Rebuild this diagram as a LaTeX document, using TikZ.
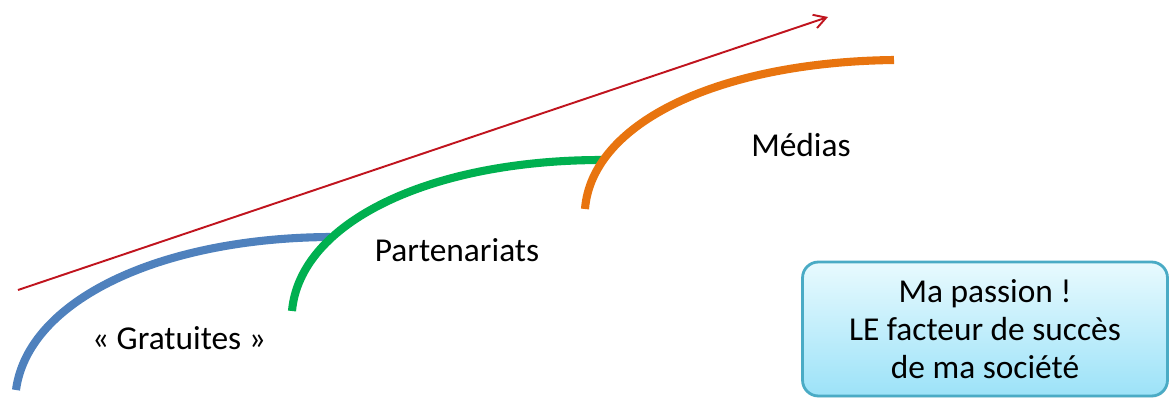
\documentclass[tikz,border=0pt]{standalone}
\usepackage{fontspec}
\setmainfont{Carlito}
\usetikzlibrary{positioning,arrows.meta,shadows}

\definecolor{arcblue}{HTML}{4F81BD}
\definecolor{arcgreen}{HTML}{00B050}
\definecolor{arcorange}{HTML}{E8740F}
\definecolor{trendred}{HTML}{C0141E}
\definecolor{boxedge}{HTML}{4AABC5}
\definecolor{boxtop}{HTML}{E8FAFE}
\definecolor{boxbot}{HTML}{9CE2F8}

\begin{document}
\begin{tikzpicture}[
  x=0.02cm, y=-0.02cm,
  font=\fontsize{19}{21.5}\selectfont,
  stage/.style = {line width=4.6pt},
  trend/.style = {-{Straight Barb[length=2.4mm,width=2.8mm]}, draw=trendred,
                  line width=1.1pt},
  lbl/.style   = {inner sep=1pt},
  note/.style  = {draw=boxedge, line width=1.6pt, rounded corners=9pt,
                  top color=boxtop, bottom color=boxbot, align=center,
                  minimum width=7.3cm, minimum height=2.68cm,
                  drop shadow={shadow xshift=0.5pt, shadow yshift=-0.8pt,
                               opacity=0.25}},
]
\useasboundingbox (0,0) rectangle (1171,399);

%% ---- trend arrow -------------------------------------------------------
\coordinate (trendA) at (18,290);
\coordinate (trendB) at (828,17);
\draw[trend] (trendA) -- (trendB);

%% ---- three growth stages ----------------------------------------------
\coordinate (s1a) at (16,390);  \coordinate (s1b) at (330,237);
\coordinate (s2a) at (292,311); \coordinate (s2b) at (602,160);
\coordinate (s3a) at (585,209); \coordinate (s3b) at (894,60);

\draw[stage, draw=arcblue]   (s1a) .. controls (28,300) and (160,238) .. (s1b);
\draw[stage, draw=arcgreen]  (s2a) .. controls (300,222) and (430,160) .. (s2b);
\draw[stage, draw=arcorange] (s3a) .. controls (592,122) and (720,62) .. (s3b);

%% ---- stage labels ------------------------------------------------------
\node[lbl] (gratuites) at (179,338) {«~Gratuites~»};
\node[lbl] (partner)   at (457,250) {Partenariats};
\node[lbl] (medias)    at (801,145) {Médias};

%% ---- note box ----------------------------------------------------------
\node[note] (passion) at (985,329)
  {Ma passion !\\LE facteur de succès\\de ma société};

\end{tikzpicture}
\end{document}
